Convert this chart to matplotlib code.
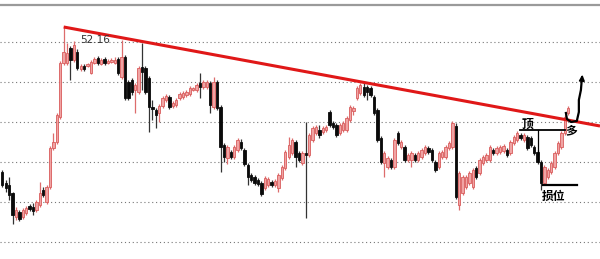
import matplotlib
matplotlib.use("Agg")
import matplotlib.pyplot as plt
import numpy as np

plt.rcParams['font.family'] = ['Noto Sans CJK SC', 'DejaVu Sans']

# velas: apertura, cierre, maximo, minimo
opens = [50.70, 50.59, 50.57, 50.49, 50.25, 50.30, 50.25, 50.29, 50.36, 50.35,
         50.32, 50.37, 50.52, 50.40, 50.55, 50.94, 51.00, 51.25, 51.79, 51.79,
         51.94, 51.82, 51.90, 51.73, 51.76, 51.76, 51.69, 51.79, 51.84, 51.78,
         51.83, 51.79, 51.80, 51.79, 51.83, 51.65, 51.85, 51.60, 51.62, 51.52,
         51.50, 51.75, 51.74, 51.64, 51.35, 51.32, 51.29, 51.36, 51.42, 51.45,
         51.36, 51.37, 51.44, 51.45, 51.47, 51.48, 51.52, 51.52, 51.59, 51.55,
         51.55, 51.59, 51.35, 51.60, 51.35, 50.97, 50.84, 50.90, 50.85, 50.92,
         51.00, 50.92, 50.77, 50.67, 50.65, 50.62, 50.59, 50.54, 50.57, 50.60,
         50.57, 50.54, 50.64, 50.74, 50.85, 50.89, 51.00, 50.89, 50.79, 50.89,
         50.87, 51.02, 51.09, 51.12, 51.10, 51.12, 51.30, 51.19, 51.17, 51.09,
         51.12, 51.12, 51.22, 51.31, 51.44, 51.49, 51.55, 51.55, 51.54, 51.45,
         51.32, 51.04, 50.79, 50.75, 50.82, 50.75, 51.09, 50.95, 50.95, 50.82,
         50.82, 50.87, 50.82, 50.85, 50.89, 50.94, 50.92, 50.80, 50.75, 50.85,
         50.85, 50.94, 50.95, 51.16, 50.37, 50.49, 50.55, 50.59, 50.55, 50.74,
         50.69, 50.79, 50.82, 50.82, 50.92, 50.89, 50.90, 50.91, 50.92, 50.89,
         50.99, 51.02, 51.07, 51.02, 51.05, 51.04, 50.95, 50.90, 50.80, 50.59,
         50.65, 50.70, 50.75, 50.89, 50.95, 51.09, 51.29]
closes = [50.57, 50.54, 50.47, 50.27, 50.32, 50.23, 50.32, 50.34, 50.33, 50.31,
          50.40, 50.49, 50.47, 50.55, 50.94, 51.00, 51.27, 51.79, 51.90, 51.89,
          51.82, 51.97, 51.74, 51.76, 51.73, 51.78, 51.80, 51.83, 51.79, 51.82,
          51.79, 51.81, 51.82, 51.82, 51.69, 51.85, 51.44, 51.44, 51.50, 51.57,
          51.74, 51.70, 51.50, 51.35, 51.33, 51.27, 51.36, 51.44, 51.46, 51.35,
          51.39, 51.42, 51.48, 51.49, 51.50, 51.54, 51.54, 51.57, 51.55, 51.60,
          51.60, 51.37, 51.60, 51.34, 50.95, 50.85, 50.95, 50.85, 50.95, 51.02,
          50.94, 50.78, 50.65, 50.62, 50.59, 50.58, 50.48, 50.64, 50.63, 50.57,
          50.61, 50.67, 50.75, 50.90, 50.97, 51.02, 50.85, 50.82, 50.89, 50.87,
          51.07, 51.14, 51.15, 51.07, 51.14, 51.15, 51.17, 51.15, 51.07, 51.17,
          51.19, 51.24, 51.35, 51.34, 51.54, 51.57, 51.47, 51.50, 51.47, 51.29,
          51.02, 50.80, 50.89, 50.84, 50.75, 51.02, 50.99, 51.00, 50.82, 50.87,
          50.89, 50.82, 50.89, 50.92, 50.95, 50.90, 50.82, 50.72, 50.89, 50.90,
          50.95, 50.99, 51.19, 50.45, 50.69, 50.65, 50.65, 50.69, 50.72, 50.65,
          50.82, 50.85, 50.87, 50.95, 50.89, 50.94, 50.95, 50.96, 50.87, 51.00,
          51.05, 51.09, 51.04, 51.07, 50.94, 50.97, 50.89, 50.80, 50.59, 50.75,
          50.72, 50.79, 50.89, 50.99, 51.09, 51.25, 51.34]
highs = [50.72, 50.62, 50.65, 50.50, 50.35, 50.32, 50.34, 50.36, 50.38, 50.39,
         50.42, 50.60, 50.55, 50.57, 50.96, 51.09, 51.29, 51.81, 52.15, 51.99,
         51.96, 52.01, 51.93, 51.78, 51.78, 51.79, 51.82, 51.85, 51.86, 51.84,
         51.85, 51.83, 51.84, 51.85, 51.85, 52.02, 51.87, 51.62, 51.64, 51.59,
         51.76, 51.99, 51.76, 51.66, 51.42, 51.34, 51.38, 51.46, 51.48, 51.47,
         51.41, 51.44, 51.50, 51.51, 51.52, 51.56, 51.55, 51.59, 51.69, 51.62,
         51.62, 51.61, 51.65, 51.62, 51.37, 50.99, 50.97, 50.92, 50.97, 51.04,
         51.03, 50.94, 50.79, 50.69, 50.67, 50.64, 50.61, 50.66, 50.65, 50.62,
         50.63, 50.69, 50.77, 50.92, 51.05, 51.04, 51.02, 50.91, 50.91, 51.20,
         51.09, 51.16, 51.17, 51.17, 51.16, 51.17, 51.32, 51.21, 51.19, 51.19,
         51.21, 51.26, 51.37, 51.36, 51.56, 51.59, 51.60, 51.57, 51.56, 51.47,
         51.34, 51.06, 50.91, 50.86, 50.84, 51.04, 51.11, 51.02, 50.97, 50.89,
         50.91, 50.89, 50.91, 50.94, 50.97, 50.96, 50.94, 50.82, 50.91, 50.92,
         50.97, 51.01, 51.21, 51.19, 50.71, 50.67, 50.67, 50.71, 50.74, 50.76,
         50.84, 50.87, 50.89, 50.97, 50.94, 50.96, 50.97, 50.98, 50.94, 51.02,
         51.07, 51.11, 51.09, 51.09, 51.07, 51.06, 50.97, 50.92, 50.82, 50.77,
         50.74, 50.81, 50.91, 51.01, 51.11, 51.27, 51.36]
lows = [50.55, 50.50, 50.42, 50.18, 50.22, 50.21, 50.23, 50.27, 50.31, 50.27,
        50.30, 50.35, 50.45, 50.38, 50.53, 50.92, 50.98, 51.23, 51.77, 51.77,
        51.62, 51.80, 51.72, 51.71, 51.71, 51.75, 51.68, 51.78, 51.77, 51.77,
        51.77, 51.78, 51.79, 51.78, 51.67, 51.63, 51.42, 51.42, 51.47, 51.29,
        51.48, 51.52, 51.48, 51.10, 51.22, 51.14, 51.20, 51.34, 51.40, 51.33,
        51.34, 51.35, 51.42, 51.43, 51.45, 51.46, 51.51, 51.50, 51.44, 51.53,
        51.53, 51.29, 51.33, 51.32, 50.70, 50.80, 50.78, 50.83, 50.83, 50.90,
        50.92, 50.76, 50.57, 50.60, 50.57, 50.56, 50.46, 50.52, 50.55, 50.55,
        50.55, 50.50, 50.62, 50.72, 50.83, 50.87, 50.75, 50.80, 50.77, 50.24,
        50.85, 51.00, 51.07, 51.04, 51.08, 51.10, 51.15, 51.13, 51.05, 51.07,
        51.10, 51.10, 51.20, 51.27, 51.42, 51.47, 51.45, 51.42, 51.45, 51.27,
        51.00, 50.78, 50.65, 50.73, 50.73, 50.73, 50.97, 50.93, 50.80, 50.80,
        50.75, 50.80, 50.80, 50.83, 50.87, 50.88, 50.80, 50.70, 50.73, 50.83,
        50.83, 50.92, 50.93, 50.43, 50.32, 50.47, 50.53, 50.57, 50.53, 50.63,
        50.67, 50.77, 50.80, 50.80, 50.87, 50.87, 50.88, 50.89, 50.85, 50.87,
        50.97, 51.00, 51.02, 51.00, 50.92, 50.95, 50.87, 50.78, 50.52, 50.57,
        50.63, 50.68, 50.73, 50.87, 50.93, 51.07, 51.27]

grid_levels = [52.0, 51.6, 51.2, 50.8, 50.4, 50.0]
top_border = 52.37

# linea de tendencia: maximo 52.16 hasta el borde derecho
trend_x = [18, 175.3]
trend_y = [52.15, 51.16]

# lineas dibujadas a mano
top_line_x = [151.8, 165.0]
top_line_y = [51.12, 51.12]
vert_line_x = [157.1, 157.1]
vert_line_y = [51.12, 50.80]
stop_line_x = [158.6, 168.5]
stop_line_y = [50.57, 50.57]
arrow_x = [165.3, 165.6, 166.8, 168.5, 169.1, 169.1, 169.7, 170.0]
arrow_y = [51.29, 51.23, 51.20, 51.21, 51.30, 51.42, 51.52, 51.64]

fig = plt.figure(figsize=(6.0, 2.59), dpi=100)
ax = fig.add_axes([0, 0, 1, 1])
ax.set_xlim(-0.67, 175.3)
ax.set_ylim(52.42 - 2.59, 52.42)
ax.axis('off')

for g in grid_levels:
    ax.axhline(g, color='#777777', lw=0.8, ls=(0, (1, 2.5)), zorder=1)
ax.axhline(top_border, color='#9a9a9a', lw=1.6, zorder=1)

o = np.array(opens)
c = np.array(closes)
h = np.array(highs)
l = np.array(lows)
idx = np.arange(len(o))
up = c >= o

ax.vlines(idx[up], l[up], h[up], color='#dd6c6c', lw=0.9, zorder=2)
ax.vlines(idx[~up], l[~up], h[~up], color='#333333', lw=0.9, zorder=2)
bottom = np.minimum(o, c)
height = np.maximum(np.abs(c - o), 0.015)
ax.bar(idx[up], height[up], bottom=bottom[up], width=0.7,
       facecolor='#f0a4a4', edgecolor='#d95c5c', lw=0.6, zorder=3)
ax.bar(idx[~up], height[~up], bottom=bottom[~up], width=0.7,
       facecolor='#0a0a0a', edgecolor='#0a0a0a', lw=0.6, zorder=3)

ax.plot(trend_x, trend_y, color='#e01818', lw=2.2, solid_capstyle='butt', zorder=4)
ax.text(27.2, 52.02, '52.16', fontsize=7.5, color='#333333', ha='center', va='center',
        family='DejaVu Sans', zorder=5)

ax.plot(top_line_x, top_line_y, color='black', lw=1.3, zorder=5)
ax.plot(vert_line_x, vert_line_y, color='black', lw=0.9, zorder=5)
ax.plot(stop_line_x, stop_line_y, color='black', lw=1.6, zorder=5)
ax.plot(arrow_x, arrow_y, color='black', lw=1.6, zorder=6)
ax.annotate('', xy=(170.2, 51.70), xytext=(170.0, 51.62),
            arrowprops=dict(arrowstyle='-|>', color='black', lw=1.2,
                            mutation_scale=8), zorder=6)

ax.text(153.9, 51.18, '顶', fontsize=8.5, color='black', ha='center', va='center',
        fontweight='bold', zorder=6)
ax.text(166.8, 51.11, '多', fontsize=8.5, color='black', ha='center', va='center',
        fontweight='bold', zorder=6)
ax.text(161.8, 50.46, '损位', fontsize=8.5, color='black', ha='center', va='center',
        fontweight='bold', zorder=6)

fig.savefig('out.png', dpi=100)
